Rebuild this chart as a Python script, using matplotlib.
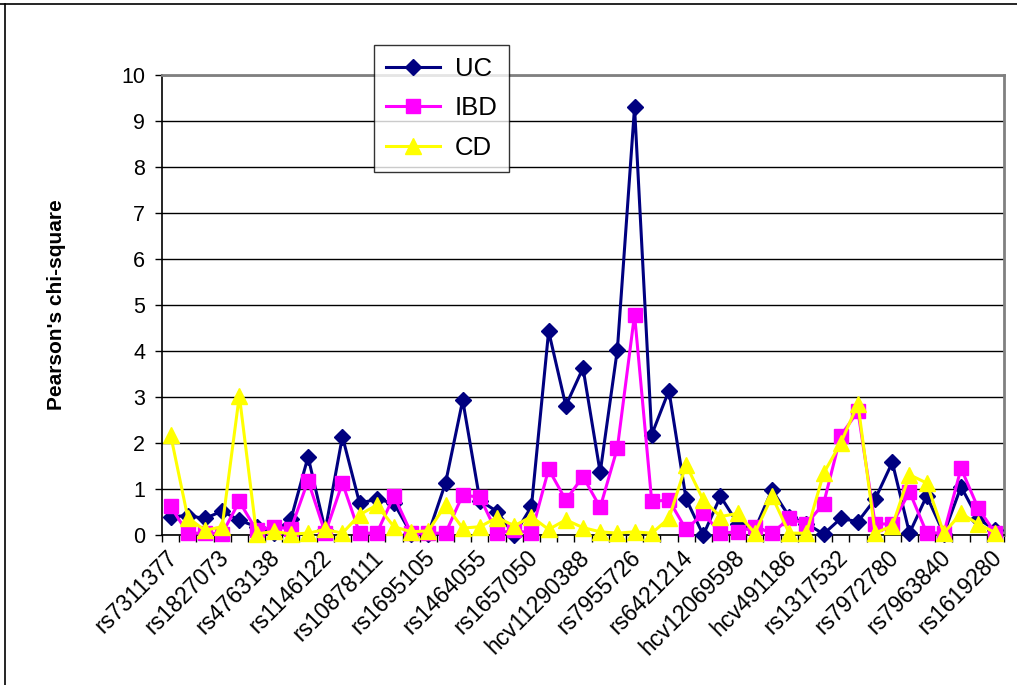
import matplotlib
matplotlib.use("Agg")
import matplotlib.pyplot as plt
from matplotlib.lines import Line2D
from matplotlib.ticker import FixedLocator, NullFormatter
from matplotlib.transforms import ScaledTranslation

plt.rcParams["font.family"] = ["Liberation Sans", "DejaVu Sans"]

snps = ["rs7311377", "rs1827073", "rs4763138", "rs1146122", "rs10878111", "rs1695105",
        "rs1464055", "rs1657050", "hcv11290388", "rs7955726", "rs6421214", "hcv12069598",
        "hcv491186", "rs1317532", "rs7972780", "rs7963840", "rs1619280"]

# one value per marker, 49 markers; only every third marker carries a label
uc = [0.40, 0.42, 0.36, 0.52, 0.32, 0.18, 0.05, 0.34, 1.70, 0.10,
      2.14, 0.69, 0.78, 0.69, 0.03, 0.03, 1.13, 2.93, 0.75, 0.51,
      0.00, 0.62, 4.43, 2.81, 3.63, 1.36, 4.03, 9.30, 2.18, 3.14,
      0.78, 0.00, 0.84, 0.25, 0.12, 0.98, 0.40, 0.25, 0.02, 0.36,
      0.29, 0.78, 1.58, 0.04, 0.85, 0.03, 1.05, 0.35, 0.11]
ibd = [0.62, 0.04, 0.04, 0.03, 0.73, 0.10, 0.18, 0.13, 1.18, 0.04,
       1.13, 0.04, 0.04, 0.85, 0.04, 0.04, 0.04, 0.87, 0.82, 0.04,
       0.10, 0.04, 1.43, 0.76, 1.27, 0.60, 1.89, 4.79, 0.73, 0.76,
       0.12, 0.47, 0.04, 0.07, 0.18, 0.04, 0.36, 0.24, 0.68, 2.16,
       2.69, 0.24, 0.24, 0.94, 0.05, 0.04, 1.45, 0.58, 0.04]
cd = [2.18, 0.38, 0.10, 0.18, 3.03, 0.02, 0.08, 0.02, 0.04, 0.12,
      0.04, 0.44, 0.65, 0.18, 0.07, 0.09, 0.65, 0.15, 0.18, 0.38,
      0.20, 0.40, 0.12, 0.33, 0.16, 0.07, 0.04, 0.07, 0.04, 0.36,
      1.53, 0.76, 0.40, 0.47, 0.04, 0.84, 0.04, 0.04, 1.34, 2.00,
      2.85, 0.04, 0.20, 1.31, 1.13, 0.04, 0.47, 0.24, 0.05]

x = list(range(len(uc)))

fig = plt.figure(figsize=(10.17, 6.85), dpi=100)
ax = fig.add_axes([162 / 1017, 1 - 535 / 685, 842 / 1017, 460 / 685])

ax.plot(x, uc, color="#000080", lw=2.2, marker="D", ms=8, label="UC", clip_on=False, zorder=3)
ax.plot(x, ibd, color="#FF00FF", lw=2.2, marker="s", ms=10.5, label="IBD", clip_on=False, zorder=4)
ax.plot(x, cd, color="#FFFF00", lw=2.2, marker="^", ms=11, label="CD", clip_on=False, zorder=5)

ax.set_xlim(-0.5, len(uc) - 0.5)
ax.set_ylim(0, 10)
ax.set_yticks(range(0, 11))
ax.tick_params(axis="y", labelsize=15.5, length=5, width=1, direction="out", pad=7)
ax.yaxis.grid(True, color="black", lw=1)
ax.set_axisbelow(True)

ax.set_xticks(x[::3])
ax.set_xticklabels(snps, rotation=45, ha="right", va="top", rotation_mode="anchor", fontsize=16.5)
ax.tick_params(axis="x", which="major", length=0, pad=8)
shift = ScaledTranslation(-5 / 100, 0, fig.dpi_scale_trans)
for lab in ax.get_xticklabels():
    lab.set_transform(lab.get_transform() + shift)
ax.xaxis.set_minor_locator(FixedLocator([i - 0.5 for i in range(len(uc) + 1)]))
ax.xaxis.set_minor_formatter(NullFormatter())
ax.tick_params(axis="x", which="minor", length=5, width=1, direction="out")

for side in ("left", "bottom"):
    ax.spines[side].set_color("black")
    ax.spines[side].set_linewidth(1.2)
for side in ("top", "right"):
    ax.spines[side].set_color("#808080")
    ax.spines[side].set_linewidth(2)

ax.set_ylabel("Pearson's chi-square", fontsize=15, fontweight="bold", labelpad=40)

leg = ax.legend(loc="upper left", bbox_to_anchor=(374 / 1017, 1 - 45 / 685),
                bbox_transform=fig.transFigure, fontsize=18.5, frameon=True,
                fancybox=False, edgecolor="black", handlelength=2.1,
                handletextpad=0.6, labelspacing=0.62, borderpad=0.45, borderaxespad=0)
leg.get_frame().set_linewidth(1)
leg.set_zorder(10)

# chart area border along the top and left edges
fig.add_artist(Line2D([0, 1], [1 - 4 / 685, 1 - 4 / 685], color="black", lw=1.2))
fig.add_artist(Line2D([5 / 1017, 5 / 1017], [0, 1 - 4 / 685], color="black", lw=1.2))

fig.savefig("out.png", dpi=100)
